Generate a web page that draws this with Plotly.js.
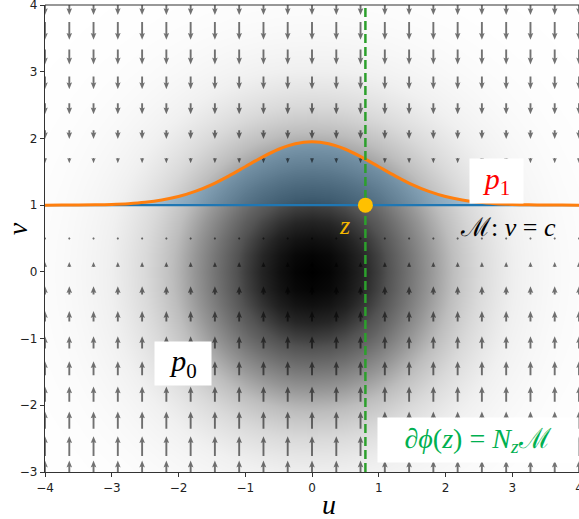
<!DOCTYPE html>
<html>
<head>
<meta charset="utf-8">
<script src="https://cdn.plot.ly/plotly-3.0.1.min.js"></script>
<style>html,body{margin:0;padding:0;background:#fff;}#chart{width:579px;height:519px;}</style>
</head>
<body>
<div id="chart"></div>
<script>
// ---------- data ----------
const uTicks = [-4, -3, -2, -1, 0, 1, 2, 3, 4];
const vTicks = [-3, -2, -1, 0, 1, 2, 3, 4];

// manifold M: v = c, and the point z on it
const manifoldC = 1.0;
const zU = 0.8;

// density p0 (read as separable profiles on a 0.25 grid)
const densU = [-4,-3.75,-3.5,-3.25,-3,-2.75,-2.5,-2.25,-2,-1.75,-1.5,-1.25,-1,-0.75,-0.5,-0.25,0,0.25,0.5,0.75,1,1.25,1.5,1.75,2,2.25,2.5,2.75,3,3.25,3.5,3.75,4];
const densUProfile = [0.029,0.044,0.066,0.096,0.135,0.186,0.249,0.325,0.411,0.506,0.607,0.707,0.801,0.882,0.946,0.986,1.000,0.986,0.946,0.882,0.801,0.707,0.607,0.506,0.411,0.325,0.249,0.186,0.135,0.096,0.066,0.044,0.029];
const densV = [-3,-2.75,-2.5,-2.25,-2,-1.75,-1.5,-1.25,-1,-0.75,-0.5,-0.25,0,0.25,0.5,0.75,1,1.25,1.5,1.75,2,2.25,2.5,2.75,3,3.25,3.5,3.75,4];
const densVProfile = [0.135,0.186,0.249,0.325,0.411,0.506,0.607,0.707,0.801,0.882,0.946,0.986,1.000,0.986,0.946,0.882,0.801,0.707,0.607,0.506,0.411,0.325,0.249,0.186,0.135,0.096,0.066,0.044,0.029];

// p1 curve
const curveU = [-4,-3.75,-3.5,-3.25,-3,-2.75,-2.5,-2.25,-2,-1.75,-1.5,-1.25,-1,-0.75,-0.5,-0.25,0,0.25,0.5,0.75,1,1.25,1.5,1.75,2,2.25,2.5,2.75,3,3.25,3.5,3.75,4];
const curveP1 = [1.0,1.001,1.002,1.005,1.011,1.022,1.042,1.076,1.129,1.206,1.308,1.435,1.576,1.717,1.838,1.921,1.95,1.921,1.838,1.717,1.576,1.435,1.308,1.206,1.129,1.076,1.042,1.022,1.011,1.005,1.002,1.001,1.0];

// vector field grid (vertical component per row)
const quiverU = [-4,-3.636,-3.273,-2.909,-2.545,-2.182,-1.818,-1.455,-1.091,-0.727,-0.364,0,0.364,0.727,1.091,1.455,1.818,2.182,2.545,2.909,3.273,3.636,4];
const quiverV = [-3,-2.611,-2.222,-1.833,-1.444,-1.056,-0.667,-0.278,0.111,0.5,0.889,1.278,1.667,2.056,2.444,2.833,3.222,3.611,4];
const quiverDV = [3.8,3.3,2.9,2.55,2.35,2.05,1.75,1.4,0.85,0.15,0,0,-0.85,-1.45,-1.85,-2.1,-2.5,-2.95,-3.35];

// ---------- geometry ----------
const W = 579, H = 519;
const M = {l: 45, r: 0, t: 5, b: 47};
const xRange = [-4, 4], yRange = [-3, 4];
const pxX = (W - M.l - M.r) / (xRange[1] - xRange[0]);
const pxY = (H - M.t - M.b) / (yRange[1] - yRange[0]);

// quiver arrow style (pixels)
const arrowScale = 6;     // px per field unit
const SW = 1.9, HW = 5.6, HL = 6.8, HAL = 6.0;

const ax = [], ay = [];
function pushPoly(pts, x0, y0, dir) {
  pts.forEach(p => { ax.push(x0 + p[1] / pxX); ay.push(y0 + dir * p[0] / pxY); });
  ax.push(x0 + pts[0][1] / pxX); ay.push(y0 + dir * pts[0][0] / pxY);
  ax.push(null); ay.push(null);
}
quiverV.forEach((v0, i) => {
  const val = quiverDV[i];
  if (val === 0) return;
  const L = Math.abs(val) * arrowScale;
  const dir = val > 0 ? 1 : -1;
  quiverU.forEach(u0 => {
    let pts;
    if (L < SW) {
      const r = SW * 0.6;
      pts = [];
      for (let k = 0; k < 6; k++) { const a = Math.PI / 3 * k; pts.push([r * Math.cos(a), r * Math.sin(a)]); }
    } else {
      let s = 1, Le = L;
      if (L < HL) { s = L / HL; Le = HL; }
      pts = [[0, -SW/2], [Le - HAL, -SW/2], [Le - HL, -HW/2], [Le, 0], [Le - HL, HW/2], [Le - HAL, SW/2], [0, SW/2]]
        .map(p => [p[0] * s - L / 2, p[1] * s]);
    }
    pushPoly(pts, u0, v0, dir);
  });
});

// density table
const densZ = densVProfile.map(pv => densUProfile.map(pu => pu * pv));

const greys = [[0,'#ffffff'],[0.125,'#f0f0f0'],[0.25,'#d9d9d9'],[0.375,'#bdbdbd'],[0.5,'#969696'],[0.625,'#737373'],[0.75,'#525252'],[0.875,'#252525'],[1,'#000000']];

const traces = [
  {type: 'heatmap', x: densU, y: densV, z: densZ, colorscale: greys, zmin: 0, zmax: 1, zsmooth: 'best', showscale: false, hoverinfo: 'skip'},
  {type: 'scatter', mode: 'lines', x: curveU, y: curveU.map(() => manifoldC), line: {width: 0}, hoverinfo: 'skip', showlegend: false},
  {type: 'scatter', mode: 'lines', x: curveU, y: curveP1, fill: 'tonexty', fillcolor: 'rgba(31,119,180,0.33)', line: {width: 0, shape: 'spline'}, hoverinfo: 'skip', showlegend: false},
  {type: 'scatter', mode: 'lines', x: ax, y: ay, fill: 'toself', fillcolor: 'rgba(0,0,0,0.55)', line: {width: 0}, hoverinfo: 'skip', showlegend: false},
  {type: 'scatter', mode: 'lines', x: [xRange[0], xRange[1]], y: [manifoldC, manifoldC], line: {color: '#1f77b4', width: 2.2}, showlegend: false},
  {type: 'scatter', mode: 'lines', x: curveU, y: curveP1, line: {color: '#ff7f0e', width: 3, shape: 'spline'}, showlegend: false},
  {type: 'scatter', mode: 'lines', x: [zU, zU], y: [yRange[0], yRange[1]], line: {color: '#2ca02c', width: 2.5, dash: '9px,4px'}, showlegend: false},
  {type: 'scatter', mode: 'markers', x: [zU], y: [manifoldC], marker: {color: '#ffc000', size: 15}, showlegend: false}
];

const mathFont = 'Liberation Serif, DejaVu Serif, serif';
const axisCommon = {
  showgrid: false, zeroline: false, showline: true, linecolor: '#333', linewidth: 1.2,
  ticks: 'outside', ticklen: 4, tickwidth: 1, tickcolor: '#333', ticklabeloverflow: 'allow',
  tickfont: {family: 'DejaVu Sans', size: 12, color: '#222'}
};

const layout = {
  width: W, height: H, margin: M,
  paper_bgcolor: '#fff', plot_bgcolor: '#fff', showlegend: false,
  xaxis: Object.assign({}, axisCommon, {range: xRange, tickvals: uTicks}),
  yaxis: Object.assign({}, axisCommon, {range: yRange, tickvals: vTicks}),
  shapes: [
    {type: 'line', xref: 'paper', yref: 'paper', x0: 0, x1: 1, y0: 1, y1: 1, line: {color: '#333', width: 1.2}}
  ],
  annotations: [
    {xref: 'x', yref: 'y', x: 2.77, y: 1.36, text: '<i>p</i><sub>1</sub>', showarrow: false, bgcolor: '#fff', width: 51, height: 42,
     font: {family: mathFont, size: 30, color: '#ff0000'}},
    {xref: 'x', yref: 'y', x: 2.94, y: 0.67, text: 'ℳ: <i>v</i> = <i>c</i>', showarrow: false,
     font: {family: mathFont, size: 26, color: '#000'}},
    {xref: 'x', yref: 'y', x: -1.93, y: -1.37, text: '<i>p</i><sub>0</sub>', showarrow: false, bgcolor: '#fff', width: 54, height: 41,
     font: {family: mathFont, size: 30, color: '#000'}},
    {xref: 'x', yref: 'y', x: 2.49, y: -2.52, text: '∂<i>ϕ</i>(<i>z</i>) = <i>N<sub>z</sub></i>ℳ', showarrow: false, bgcolor: '#fff', width: 198, height: 42,
     font: {family: mathFont, size: 28, color: '#00b050'}},
    {xref: 'x', yref: 'y', x: 0.48, y: 0.70, text: '<i>z</i>', showarrow: false,
     font: {family: mathFont, size: 26, color: '#f5b800'}},
    {xref: 'x', yref: 'paper', x: 0.25, y: 0, yanchor: 'middle', yshift: -32, text: '<i>u</i>', showarrow: false,
     font: {family: mathFont, size: 28, color: '#000'}},
    {xref: 'paper', yref: 'y', x: 0, xanchor: 'center', xshift: -28, y: 0.64, text: '<i>v</i>', textangle: -90, showarrow: false,
     font: {family: mathFont, size: 28, color: '#000'}}
  ]
};

Plotly.newPlot('chart', traces, layout, {staticPlot: true, displayModeBar: false});
</script>
</body>
</html>
